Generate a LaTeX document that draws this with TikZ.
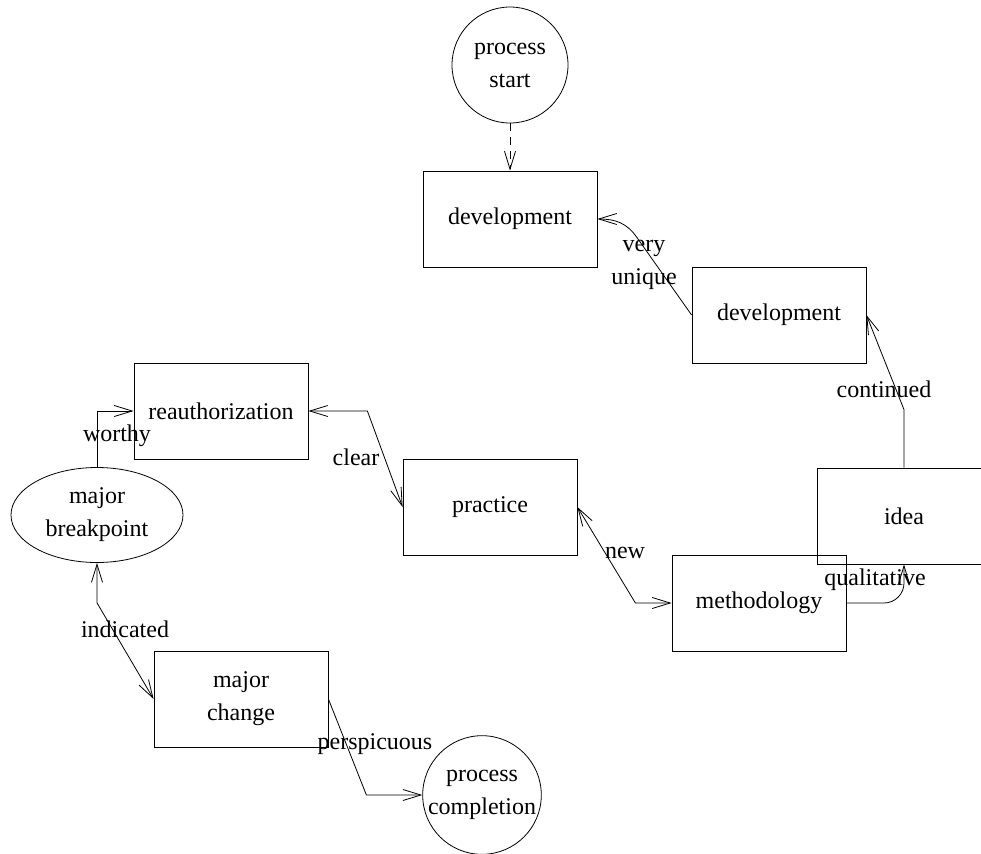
\documentclass[tikz,border=0pt]{standalone}
\usepackage{fontspec}
\setmainfont{Liberation Serif}
\usetikzlibrary{shapes.geometric}
\usetikzlibrary{arrows.meta}
\tikzset{
  box/.style={draw, minimum width=87pt, minimum height=48pt, inner sep=0pt, align=center},
  term/.style={draw, circle, minimum size=58pt, inner sep=0pt, align=center},
  arr/.style={-{Straight Barb[length=9pt,width=5.5pt]}},
  both/.style={{Straight Barb[length=9pt,width=5.5pt]}-{Straight Barb[length=9pt,width=5.5pt]}}
}

\begin{document}
\begin{tikzpicture}[x=0.5pt, y=-0.5pt, font=\fontsize{12}{16.5}\selectfont]
\useasboundingbox (0,0) rectangle (981,853);
\foreach \Name/\X/\Y/\Label in {dev/510/219/development, devb/779/315/development, reauth/221/411/reauthorization, practice/490/507/practice, method/759/603/methodology, idea/904/516/idea, change/241/699/{major\\change}}
    \node[box] (\Name) at (\X,\Y) {\Label};
\foreach \Name/\X/\Y/\Label in {start/510/65/{process\\start}, completion/482/795/{process\\completion}}
    \node[term] (\Name) at (\X,\Y) {\Label};
\node[draw, ellipse, minimum width=86pt, minimum height=47.5pt, inner sep=0pt, align=center] (breakpoint) at (97,515) {major\\breakpoint};
% connectors
\draw[arr, dash pattern=on 4pt off 3pt] (start) -- (dev);
\draw[arr] (devb.west) -- ++(-55,-78) .. controls +(-10,-14) and +(18,0) .. (dev.east);
\draw[arr] (breakpoint.north) |- (reauth.west);
\draw[both] (reauth.east) -- ++(59,0) -- (practice.west);
\draw[both] (practice.east) -- ++(58,96) -- (method.west);
\draw[arr, rounded corners=10pt] (method.east) -| (idea.south);
\draw[arr] (idea.north) -- ++(0,-58) -- (devb.east);
\draw[both] (breakpoint.south) -- ++(0,40) -- (change.west);
\draw[arr] (change.east) -- ++(38,96) -- (completion.west);
% labels
\foreach \Name/\X/\Y/\Label in {lunique/644/265/{very\\unique}, lworthy/117/436/worthy, lclear/356/457/clear, lnew/625/553/new, lqual/875/580/qualitative, lcont/884/389/continued, lind/125/629/indicated, lpersp/375/744/perspicuous}
    \node[inner sep=0pt, align=center] (\Name) at (\X,\Y) {\Label};
\end{tikzpicture}
\end{document}
